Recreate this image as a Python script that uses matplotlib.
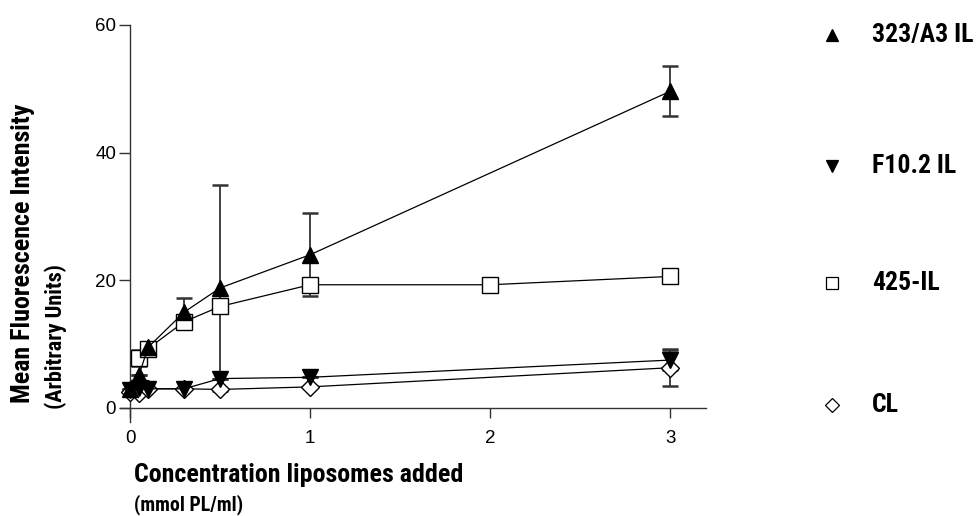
import matplotlib
matplotlib.use("Agg")
import matplotlib.pyplot as plt
from matplotlib import font_manager

# pick a condensed bold family for the labels, if one is installed
names = {f.name for f in font_manager.fontManager.ttflist}
cond = "DejaVu Sans"
for cand in ["Liberation Sans Narrow", "DejaVu Sans Condensed", "Roboto Condensed"]:
    if cand in names:
        cond = cand
        break
tickfont = "Liberation Sans" if "Liberation Sans" in names else "DejaVu Sans"

# data
x_a3 = [0, 0.05, 0.1, 0.3, 0.5, 1, 3]
y_a3 = [3.0, 5.2, 9.5, 15.0, 18.8, 24.0, 49.6]
e_a3 = [0, 0, 0, 2.3, 16.2, 6.5, 3.9]

x_f10 = [0, 0.05, 0.1, 0.3, 0.5, 1, 3]
y_f10 = [2.8, 3.1, 3.0, 3.0, 4.6, 4.8, 7.5]
e_f10 = [0, 0, 0, 0, 0, 0, 1.6]

x_425 = [0.05, 0.1, 0.3, 0.5, 1, 2, 3]
y_425 = [7.8, 9.3, 13.5, 15.9, 19.3, 19.3, 20.6]
e_425 = [1.3, 0, 0, 0, 0, 0, 0]

x_cl = [0, 0.05, 0.1, 0.3, 0.5, 1, 3]
y_cl = [2.5, 2.4, 3.0, 3.0, 2.9, 3.3, 6.3]
e_cl = [0, 0, 0, 0, 0, 0, 2.9]

legend_labels = ["323/A3 IL", "F10.2 IL", "425-IL", "CL"]
x_ticks = [0, 1, 2, 3]
y_ticks = [0, 20, 40, 60]

fig = plt.figure(figsize=(9.79, 5.16), dpi=100)
ax = fig.add_axes([0.1226, 0.1822, 0.5986, 0.7694])

series = [
    (x_cl, y_cl, e_cl, "D", "white", 9),
    (x_425, y_425, e_425, "s", "white", 11),
    (x_f10, y_f10, e_f10, "v", "black", 12),
    (x_a3, y_a3, e_a3, "^", "black", 12),
]
for xs, ys, es, mk, fc, ms in series:
    ax.errorbar(xs, ys, yerr=es, fmt="none", ecolor="#333333", elinewidth=1.3,
                capsize=6, capthick=1.8, zorder=2)
    ax.plot(xs, ys, color="black", lw=0.9, marker=mk, ms=ms,
            markerfacecolor=fc, markeredgecolor="black", markeredgewidth=1.0,
            zorder=3)

ax.set_xlim(-0.056, 3.2)
ax.set_ylim(-2.2, 60)
ax.spines["top"].set_visible(False)
ax.spines["right"].set_visible(False)
ax.spines["left"].set_position(("data", 0))
ax.spines["bottom"].set_position(("data", 0))
for s in ("left", "bottom"):
    ax.spines[s].set_color("#333333")
    ax.spines[s].set_linewidth(1.0)
ax.set_xticks(x_ticks)
ax.set_yticks(y_ticks)
ax.tick_params(direction="out", width=1.0, color="#333333", labelsize=13.5)
ax.tick_params(axis="x", length=7, pad=9)
ax.tick_params(axis="y", length=8, pad=2)
for lab in ax.get_xticklabels() + ax.get_yticklabels():
    lab.set_fontfamily(tickfont)

# axis titles
fig.text(0.0235, 0.219, "Mean Fluorescence Intensity", rotation=90,
         ha="center", va="bottom", family=cond, weight="bold", fontsize=18.7)
fig.text(0.057, 0.207, "(Arbitrary Units)", rotation=90,
         ha="center", va="bottom", family=cond, weight="bold", fontsize=16)
fig.text(0.137, 0.0795, "Concentration liposomes added", ha="left",
         va="center", family=cond, weight="bold", fontsize=18.7)
fig.text(0.137, 0.022, "(mmol PL/ml)", ha="left", va="center",
         family=cond, weight="bold", fontsize=14.3)

# legend on the right
leg_markers = ["^", "v", "s", "D"]
leg_fc = ["black", "black", "white", "white"]
leg_ms = [9, 9, 9, 7]
leg_y = [0.932, 0.678, 0.452, 0.215]
for lab, mk, fc, ms, yy in zip(legend_labels, leg_markers, leg_fc, leg_ms, leg_y):
    fig.lines.append(plt.Line2D([0.850], [yy], marker=mk, ms=ms,
                                markerfacecolor=fc, markeredgecolor="black",
                                markeredgewidth=0.9, transform=fig.transFigure))
    fig.text(0.891, yy, lab, ha="left", va="center", family=cond,
             weight="bold", fontsize=18.5)

fig.savefig("out.png", dpi=100, facecolor="white")
